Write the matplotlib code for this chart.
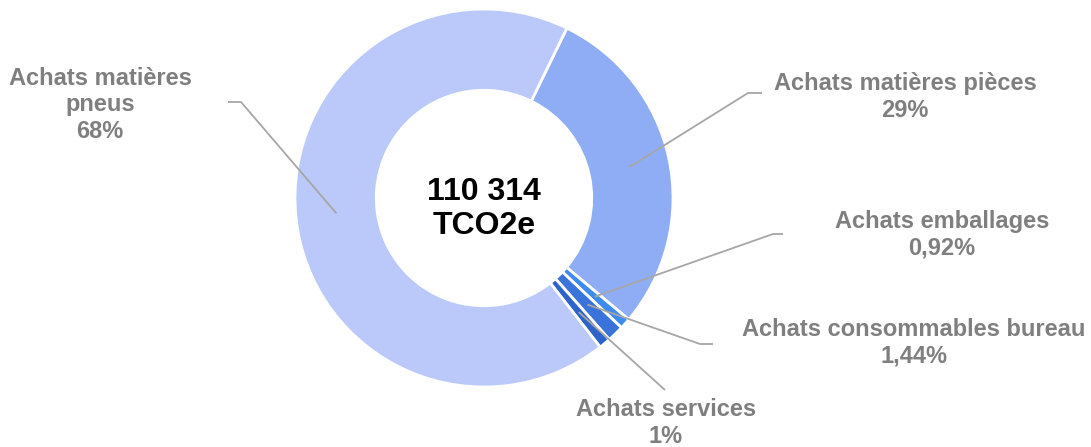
import numpy as np
import matplotlib
matplotlib.use("Agg")
import matplotlib.pyplot as plt

plt.rcParams['font.family'] = ['Liberation Sans', 'DejaVu Sans']

# data
categories = ['Achats matières pièces', 'Achats emballages', 'Achats consommables bureau',
              'Achats services', 'Achats matières\npneus']
values = [29, 0.92, 1.44, 1, 68]
pct_labels = ['29%', '0,92%', '1,44%', '1%', '68%']
total_label = '110 314\nTCO2e'

colors = ['#8FADF5', '#3E8BF0', '#3A73D9', '#2E63C9', '#BAC9F9']

W, H = 1091, 447
fig = plt.figure(figsize=(W / 100, H / 100), dpi=100)
cx, cy, R = 484, 198, 189
ax = fig.add_axes([(cx - R) / W, (H - cy - R) / H, 2 * R / W, 2 * R / H])

wedges, _ = ax.pie(values, colors=colors, startangle=64, counterclock=False,
                   radius=1, wedgeprops=dict(width=0.43, edgecolor='white', linewidth=2))
ax.set_xlim(-1, 1)
ax.set_ylim(-1, 1)
ax.set_aspect('equal')
ax.axis('off')

ax.text(0, -0.058, total_label, ha='center', va='center', fontsize=23,
        fontweight='bold', color='black', linespacing=1.2)


def px(x, y):
    return (x - cx) / R, (cy - y) / R


# label layout: text centre, leader elbow, leader end (pixels)
layout = [
    ((905, 97), (748, 93), (762, 93)),
    ((942, 235), (773, 234), (783, 234)),
    ((914, 343), (700, 344), (713, 344)),
    ((666, 423), (665, 390), (665, 390)),
    ((100, 105), (241, 102), (228, 102)),
]

for w, cat, pct, (tpos, elbow, end) in zip(wedges, categories, pct_labels, layout):
    ang = np.deg2rad((w.theta1 + w.theta2) / 2)
    r = 0.785
    p0 = (r * np.cos(ang), r * np.sin(ang))
    e = px(*elbow)
    f = px(*end)
    ax.plot([p0[0], e[0], f[0]], [p0[1], e[1], f[1]], color='#A6A6A6',
            lw=1.3, clip_on=False, solid_capstyle='butt')
    t = px(*tpos)
    ax.text(t[0], t[1], cat + '\n' + pct, ha='center', va='center', fontsize=17,
            fontweight='bold', color='#7F7F7F', linespacing=1.2)

fig.savefig('out.png', dpi=100)
